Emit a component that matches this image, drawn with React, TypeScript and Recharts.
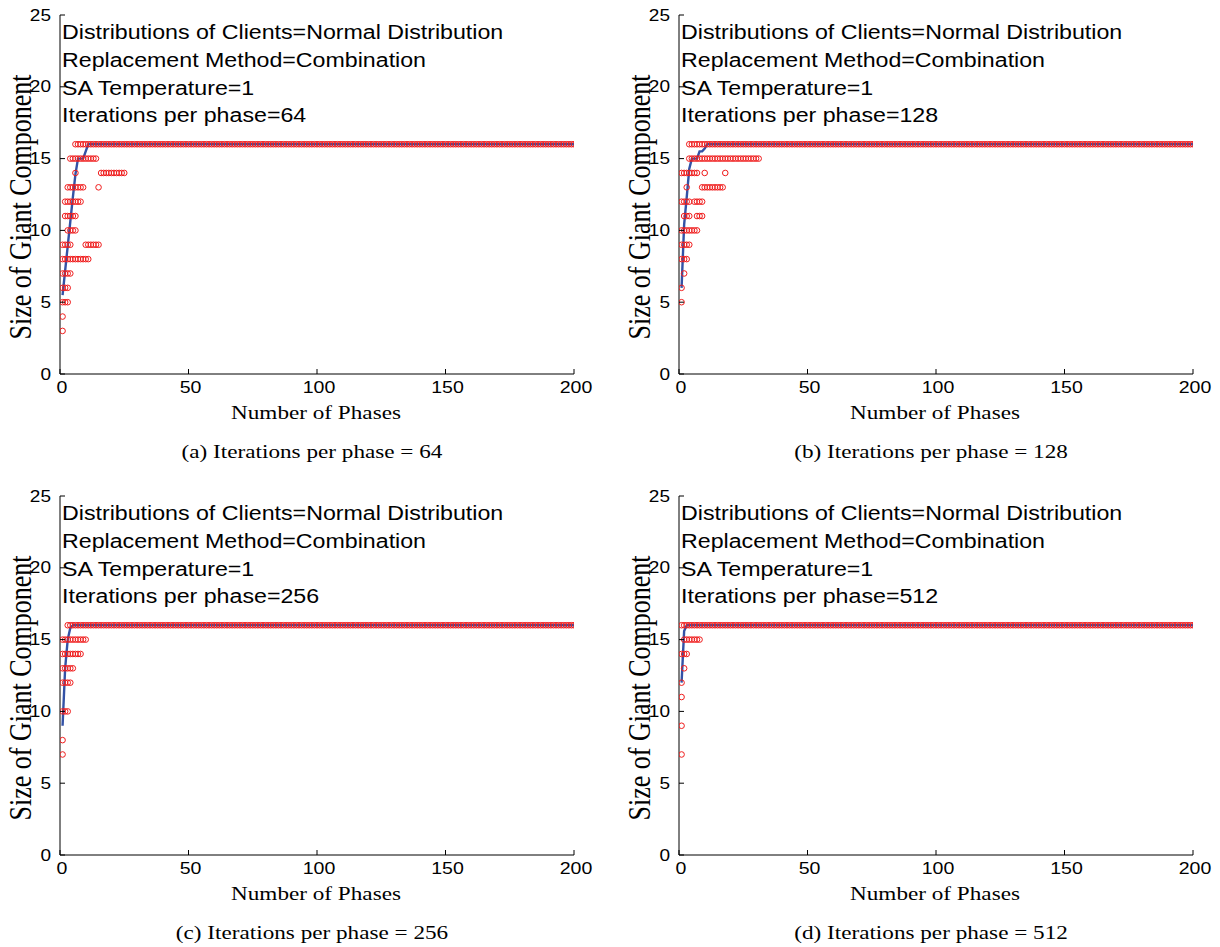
import React from 'react';
import { ComposedChart, Scatter, Line, XAxis, YAxis } from 'recharts';

const phaseTicks = [0, 50, 100, 150, 200];
const sizeTicks = [0, 5, 10, 15, 20, 25];
const lastPhase = 200;

// red circles: [size, first phase, last phase]
const runs64 = [
  [16, 6, 200], [15, 4, 14], [14, 6, 6], [14, 16, 25], [13, 3, 9], [13, 15, 15],
  [12, 2, 8], [11, 2, 6], [10, 3, 6], [9, 1, 4], [9, 10, 15], [8, 1, 11],
  [7, 1, 4], [6, 1, 3], [5, 1, 3], [4, 1, 1], [3, 1, 1],
];
const runs128 = [
  [16, 4, 200], [15, 4, 31], [14, 1, 7], [14, 10, 10], [14, 18, 18], [13, 3, 3],
  [13, 9, 17], [12, 1, 4], [12, 6, 9], [11, 2, 4], [11, 7, 9], [10, 1, 7],
  [9, 1, 4], [8, 1, 3], [7, 2, 2], [6, 1, 1], [5, 1, 1],
];
const runs256 = [
  [16, 3, 200], [15, 1, 10], [14, 1, 8], [13, 1, 5], [12, 1, 4], [10, 1, 3],
  [8, 1, 1], [7, 1, 1],
];
const runs512 = [
  [16, 1, 200], [15, 2, 8], [14, 1, 3], [13, 2, 2], [12, 1, 1], [11, 1, 1],
  [9, 1, 1], [7, 1, 1],
];

// blue mean line, phases 1.. until it settles
const mean64 = [5.5, 7.2, 8.9, 10.6, 12.3, 13.9, 15.0, 15.0, 15.0, 15.5, 16];
const mean128 = [6, 10.4, 12.3, 14.3, 15, 15, 15, 15.5, 15.5, 15.7, 16];
const mean256 = [9, 13, 15, 15.8, 16];
const mean512 = [12, 15.6, 16];
const settled = 16;

const iterations = [64, 128, 256, 512];
const letters = ['a', 'b', 'c', 'd'];

const SANS = '"Liberation Sans", Arial, Helvetica, sans-serif';
const SERIF = '"Liberation Serif", "Times New Roman", serif';
const RED = '#f01c1c';
const BLUE = '#3352a6';
const STRETCH = 1.22;

const expandRuns = (runs: number[][]) => {
  const pts: { phase: number; size: number }[] = [];
  runs.forEach(([size, from, to]) => {
    for (let p = from; p <= to; p++) pts.push({ phase: p, size });
  });
  return pts;
};

const meanSeries = (early: number[]) => {
  const out: { phase: number; size: number }[] = [];
  for (let p = 1; p <= lastPhase; p++) {
    out.push({ phase: p, size: p <= early.length ? early[p - 1] : settled });
  }
  return out;
};

const LeftTick = (props: any) => {
  const { x, y, payload } = props;
  return (
    <g>
      <line x1={x} x2={x + 5} y1={y} y2={y} stroke="#000" />
      <text
        transform={`translate(${x - 9},${y}) scale(1.12,1)`}
        textAnchor="end"
        dominantBaseline="central"
        fontFamily={SANS}
        fontSize={17}
        fill="#000"
      >
        {payload.value}
      </text>
    </g>
  );
};

const RightTick = (props: any) => {
  const { x, y } = props;
  return <line x1={x} x2={x - 5} y1={y} y2={y} stroke="#000" />;
};

const BottomTick = (props: any) => {
  const { x, y, payload } = props;
  return (
    <g>
      <line x1={x} x2={x} y1={y} y2={y - 5} stroke="#000" />
      <text
        transform={`translate(${x + 2},${y + 19}) scale(1.15,1)`}
        textAnchor="middle"
        fontFamily={SANS}
        fontSize={17}
        fill="#000"
      >
        {payload.value}
      </text>
    </g>
  );
};

const TopTick = (props: any) => {
  const { x, y } = props;
  return <line x1={x} x2={x} y1={y} y2={y + 5} stroke="#000" />;
};

const Circle = (props: any) => {
  const { cx, cy } = props;
  if (cx == null || cy == null) return <g />;
  return <circle cx={cx} cy={cy} r={2.8} fill="none" stroke={RED} strokeWidth={1} />;
};

interface PanelProps {
  left: number;
  top: number;
  runs: number[][];
  mean: number[];
  iter: number;
  letter: string;
}

const Panel: React.FC<PanelProps> = ({ left, top, runs, mean, iter, letter }) => {
  const points = expandRuns(runs);
  const line = meanSeries(mean);
  const notes = [
    'Distributions of Clients=Normal Distribution',
    'Replacement Method=Combination',
    'SA Temperature=1',
    `Iterations per phase=${iter}`,
  ];
  return (
    <div style={{ position: 'absolute', left, top, width: 620, height: 466 }}>
      <ComposedChart
        width={601}
        height={400}
        margin={{ top: 15, right: 27, bottom: 0, left: 0 }}
      >
        <XAxis
          xAxisId="b"
          type="number"
          dataKey="phase"
          domain={[0, 200]}
          ticks={phaseTicks}
          height={26}
          tickSize={0}
          tickMargin={0}
          tickLine={false}
          tick={(p: any) => <BottomTick {...p} />}
          axisLine={{ stroke: '#000' }}
          allowDataOverflow
        />
        <XAxis
          xAxisId="t"
          orientation="top"
          type="number"
          dataKey="phase"
          domain={[0, 200]}
          ticks={phaseTicks}
          height={0}
          tickSize={0}
          tickMargin={0}
          tickLine={false}
          tick={(p: any) => <TopTick {...p} />}
          axisLine={{ stroke: '#000' }}
          allowDataOverflow
        />
        <YAxis
          yAxisId="l"
          type="number"
          dataKey="size"
          domain={[0, 25]}
          ticks={sizeTicks}
          width={60}
          tickSize={0}
          tickMargin={0}
          tickLine={false}
          tick={(p: any) => <LeftTick {...p} />}
          axisLine={{ stroke: '#000' }}
          allowDataOverflow
        />
        <YAxis
          yAxisId="r"
          orientation="right"
          type="number"
          dataKey="size"
          domain={[0, 25]}
          ticks={sizeTicks}
          width={0}
          tickSize={0}
          tickMargin={0}
          tickLine={false}
          tick={(p: any) => <RightTick {...p} />}
          axisLine={{ stroke: '#000' }}
          allowDataOverflow
        />
        <Scatter
          data={points}
          xAxisId="b"
          yAxisId="l"
          dataKey="size"
          shape={(p: any) => <Circle {...p} />}
          isAnimationActive={false}
        />
        <Line
          data={line}
          xAxisId="b"
          yAxisId="l"
          dataKey="size"
          type="linear"
          stroke={BLUE}
          strokeWidth={2.4}
          dot={false}
          activeDot={false}
          isAnimationActive={false}
        />
      </ComposedChart>
      <svg
        width={620}
        height={466}
        style={{ position: 'absolute', left: 0, top: 0, pointerEvents: 'none' }}
      >
        {notes.map((t, i) => (
          <text
            key={t}
            transform={`translate(62,${39 + i * 27.8}) scale(1.16,1)`}
            fontFamily={SANS}
            fontSize={20}
            fill="#000"
          >
            {t}
          </text>
        ))}
        <text
          transform={`translate(31,207) scale(${STRETCH},1) rotate(-90)`}
          textAnchor="middle"
          fontFamily={SERIF}
          fontSize={26}
          fill="#000"
        >
          Size of Giant Component
        </text>
        <text
          transform={`translate(316,419) scale(${STRETCH},1)`}
          textAnchor="middle"
          fontFamily={SERIF}
          fontSize={19}
          fill="#000"
        >
          Number of Phases
        </text>
        <text
          transform={`translate(312,458) scale(1.22,1)`}
          textAnchor="middle"
          fontFamily={SERIF}
          fontSize={19}
          fill="#000"
        >
          {`(${letter}) Iterations per phase = ${iter}`}
        </text>
      </svg>
    </div>
  );
}

const allRuns = [runs64, runs128, runs256, runs512];
const allMeans = [mean64, mean128, mean256, mean512];

export default function App() {
  return (
    <div
      style={{
        position: 'absolute',
        left: 0,
        top: 0,
        width: 1220,
        height: 947,
        background: '#fff',
      }}
    >
      {iterations.map((iter, i) => (
        <Panel
          key={iter}
          left={(i % 2) * 619}
          top={Math.floor(i / 2) * 481}
          runs={allRuns[i]}
          mean={allMeans[i]}
          iter={iter}
          letter={letters[i]}
        />
      ))}
    </div>
  );
}
